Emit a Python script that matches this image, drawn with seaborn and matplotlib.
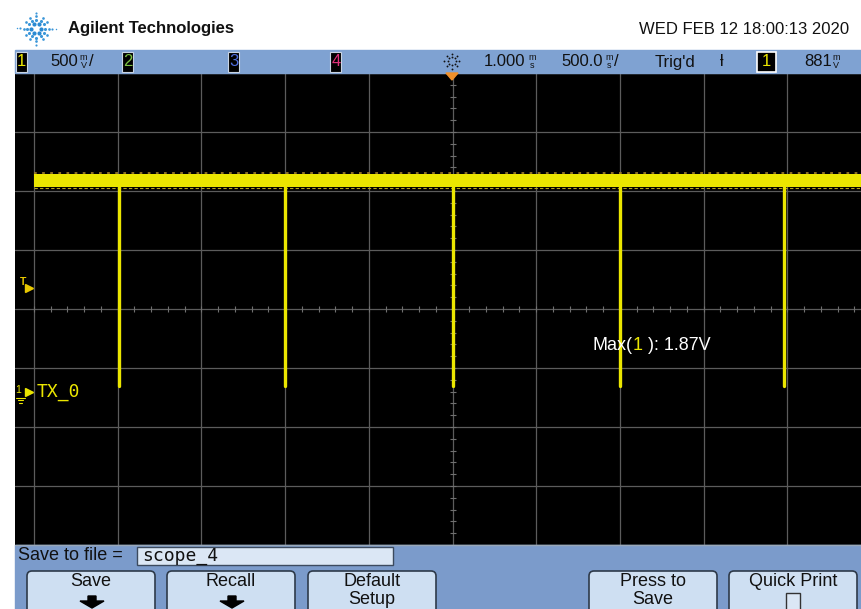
import numpy as np
import pandas as pd
import matplotlib.pyplot as plt
import seaborn as sns
from matplotlib.patches import Rectangle, FancyBboxPatch, Polygon

# channel 1 trace (time in ms, volts)
pulse_times_ms = [-0.995, 0.0, 1.0, 1.998, 2.983]
pulse_low_v = [0.05, 0.05, 0.05, 0.05, 0.05]
high_level_v = 1.79
noise_top_v = 1.844
noise_bottom_v = 1.734
max_v = 1.87
trig_level_v = 0.881

# scope settings
time_per_div_ms = 0.5
volts_per_div = 0.5
delay_ms = 1.0
screen_center_v = 0.70
capture_ms = [-1.5, 3.5]

status_left = ["500", "2", "3", "4"]
status_right = ["1.000", "500.0", "Trig'd", "881"]
date_text = "WED FEB 12 18:00:13 2020"
save_name = "scope_4"
buttons = ["Save", "Recall", "Default\nSetup", "Press to\nSave", "Quick Print"]

YEL = "#ebe600"
BAR = "#7fa2d2"
PANEL = "#7b9bcb"
BTN = "#cedff2"

sns.set_theme(style="dark")
plt.rcParams['font.family'] = ['Liberation Sans', 'DejaVu Sans']

fig = plt.figure(figsize=(8.62, 6.09), dpi=100, facecolor="white")

# ---- scope screen ----
ax = fig.add_axes([15 / 862, 64 / 609, 847 / 862, 472 / 609])
ax.set_facecolor("black")

rows = []
for i, (t, lo) in enumerate(zip(pulse_times_ms, pulse_low_v)):
    rows.append({"pulse": i, "time_ms": t, "volts": high_level_v})
    rows.append({"pulse": i, "time_ms": t, "volts": lo})
df = pd.DataFrame(rows)

ax.fill_between(capture_ms, noise_bottom_v, noise_top_v, color=YEL, lw=0, zorder=3)
ax.plot(capture_ms, [noise_top_v + 0.01] * 2, color="#9a7a2a", lw=1.3, dashes=(1.5, 3), zorder=4)
ax.plot(capture_ms, [noise_bottom_v - 0.005] * 2, color="#b8a820", lw=0.8, dashes=(3, 2), zorder=2)
sns.lineplot(data=df, x="time_ms", y="volts", units="pulse", estimator=None,
             color=YEL, lw=2.4, legend=False, ax=ax, zorder=3)

ax.set_xticks(np.arange(capture_ms[0], capture_ms[1] + 0.01, time_per_div_ms))
ax.set_yticks(np.arange(screen_center_v - 4 * volts_per_div, screen_center_v + 4 * volts_per_div + 0.01, volts_per_div))
# screen shows 19 px of margin left of the graticule and is cut on the right
px_per_ms = 2 * 83.7
ax.set_xlim(capture_ms[0] - 19 / px_per_ms, delay_ms + (862 - 452.5) / px_per_ms)
ax.set_ylim(screen_center_v - 4 * volts_per_div, screen_center_v + 4 * volts_per_div)
ax.grid(True, color="#5c5c5c", lw=0.9)
ax.tick_params(length=0, labelbottom=False, labelleft=False)
ax.set_xlabel("")
ax.set_ylabel("")
for s in ax.spines.values():
    s.set_visible(False)

# minor ticks on the centre cross
t_minor = np.arange(capture_ms[0], capture_ms[1] + 0.01, time_per_div_ms / 5)
v_minor = np.arange(screen_center_v - 4 * volts_per_div, screen_center_v + 4 * volts_per_div + 0.01, volts_per_div / 5)
ax.plot(t_minor, [screen_center_v] * len(t_minor), ls="none", marker="|", ms=5, mew=0.8, color="#707070", zorder=1)
ax.plot([delay_ms] * len(v_minor), v_minor, ls="none", marker="_", ms=5, mew=0.8, color="#707070", zorder=1)

ytr = ax.get_yaxis_transform()
# trigger level marker
ax.text(0.009, trig_level_v + 0.045, "T", transform=ytr, color="#e8c800", fontsize=7.5,
        fontweight="bold", ha="center", va="center")
ax.plot([0.0165], [trig_level_v], transform=ytr, marker=">", ms=5.5, color="#e8c800", clip_on=False)
# channel 1 ground marker
ax.text(0.004, 0.01, "1", transform=ytr, color=YEL, fontsize=7.5, ha="center", va="center")
ax.plot([0.0165], [0.0], transform=ytr, marker=">", ms=6, color=YEL, clip_on=False)
for k, w in enumerate([0.010, 0.007, 0.004]):
    ax.plot([0.0065 - w / 2, 0.0065 + w / 2], [-0.05 - k * 0.025] * 2, transform=ytr, color=YEL, lw=0.8)
ax.text(0.026, 0.0, "TX_0", transform=ytr, color=YEL, fontsize=13, family="DejaVu Sans Mono",
        ha="left", va="center")

# ---- overlay in pixel coordinates ----
ov = fig.add_axes([0, 0, 1, 1], zorder=5)
ov.set_xlim(0, 862)
ov.set_ylim(609, 0)
ov.axis("off")
ov.patch.set_alpha(0)

# header logo: ring of dots with dotted rays
cx, cy = 36.5, 28.5
for ang in range(0, 360, 60):
    a = np.deg2rad(ang)
    ov.scatter(cx + 5 * np.cos(a), cy - 5 * np.sin(a), s=9, color="#2b8ad2", lw=0)
for ang in range(0, 360, 30):
    a = np.deg2rad(ang)
    reach = 21 if ang in (0, 180) else (17 if ang in (90, 270) else 13)
    for j, rr in enumerate(np.arange(9, reach + 1, 3.5)):
        ov.scatter(cx + rr * np.cos(a), cy - rr * np.sin(a), s=max(5 - 1.3 * j, 0.8),
                   color="#3a96d8", lw=0)
ov.text(68, 29, "Agilent Technologies", fontsize=12, fontweight="bold", color="#111111", va="center")
ov.text(849, 29, date_text, fontsize=12, color="#111111", va="center", ha="right")

# status bar
ov.add_patch(Rectangle((15, 50), 847, 23, color=BAR))
chan_boxes = [(16, "1", YEL), (122, status_left[1], "#7cc242"), (228, status_left[2], "#4f6fe0"), (330, status_left[3], "#e0307a")]
for x0, lab, c in chan_boxes:
    ov.add_patch(Rectangle((x0, 51.5), 11.5, 20, fc="black", ec="#c8d4e4", lw=0.8))
    ov.text(x0 + 5.8, 62, lab, color=c, fontsize=12, ha="center", va="center")


def unit(x, top, bottom):
    ov.text(x, 57, top, fontsize=6.5, color="#111111", ha="center", va="center")
    ov.text(x, 66, bottom, fontsize=6.5, color="#111111", ha="center", va="center")


ov.text(50, 62, status_left[0], fontsize=12, color="#111111", va="center")
unit(83.5, "m", "V")
ov.text(89, 62, "/", fontsize=12, color="#111111", va="center")

# delay icon
for ang in range(0, 360, 45):
    a = np.deg2rad(ang)
    for rr in (4, 7.5):
        ov.scatter(452 + rr * np.cos(a), 61 - rr * np.sin(a), s=1.8, color="#111111", lw=0)
ov.add_patch(Polygon([(446, 73), (458, 73), (452, 80)], color="#f0902a"))

ov.text(484, 62, status_right[0], fontsize=12, color="#111111", va="center")
unit(532, "m", "s")
ov.text(561, 62, status_right[1], fontsize=12, color="#111111", va="center")
unit(609, "m", "s")
ov.text(614, 62, "/", fontsize=12, color="#111111", va="center")
ov.text(655, 62, status_right[2], fontsize=12, color="#111111", va="center")
ov.text(722, 62, "ƚ", fontsize=12, color="#111111", va="center", ha="center")
ov.add_patch(Rectangle((757, 51.5), 19, 20, fc="black", ec="white", lw=1.2))
ov.text(766.5, 62, "1", color=YEL, fontsize=12, ha="center", va="center")
ov.text(804, 62, status_right[3], fontsize=12, color="#111111", va="center")
unit(836, "m", "V")

# measurement readout
t1 = ov.text(593, 346, "Max(", fontsize=13, color="white", va="center")
t2 = ov.annotate("1", xy=(1, 0), xycoords=t1, va="bottom", fontsize=13, color=YEL)
ov.annotate(" ): %.2fV" % max_v, xy=(1, 0), xycoords=t2, va="bottom", fontsize=13, color="white")

# softkey panel
ov.add_patch(Rectangle((15, 545), 847, 64, color=PANEL))
ov.plot([15, 862], [545, 545], color="#9aa8b8", lw=1)
ov.text(18, 555, "Save to file =", fontsize=13, color="#111111", va="center")
ov.add_patch(Rectangle((137, 546.5), 256, 18, fc="#dbe7f5", ec="#3c4a5e", lw=1))
ov.text(142, 556, save_name, fontsize=13, color="#111111", va="center", family="DejaVu Sans Mono")

btn_x = [27, 167, 308, 589, 729]
for x0, lab in zip(btn_x, buttons):
    ov.add_patch(FancyBboxPatch((x0, 571), 128, 45, boxstyle="round,pad=0,rounding_size=5",
                                fc=BTN, ec="#2e3a4a", lw=1.2))
    lines = lab.split("\n")
    for k, ln in enumerate(lines):
        ov.text(x0 + 64, 581 + 18 * k, ln, fontsize=13, color="#111111", ha="center", va="center")
    if lab in ("Save", "Recall"):
        c = x0 + 65
        ov.add_patch(Polygon([(c - 4, 596), (c + 4, 596), (c + 4, 601), (c + 12, 601),
                              (c, 608), (c - 12, 601), (c - 4, 601)], color="black"))
    if lab == "Quick Print":
        ov.add_patch(Rectangle((786, 593), 14, 17, fc="#dbe7f5", ec="#333333", lw=1))

fig.savefig("out.png", dpi=100, facecolor="white")
